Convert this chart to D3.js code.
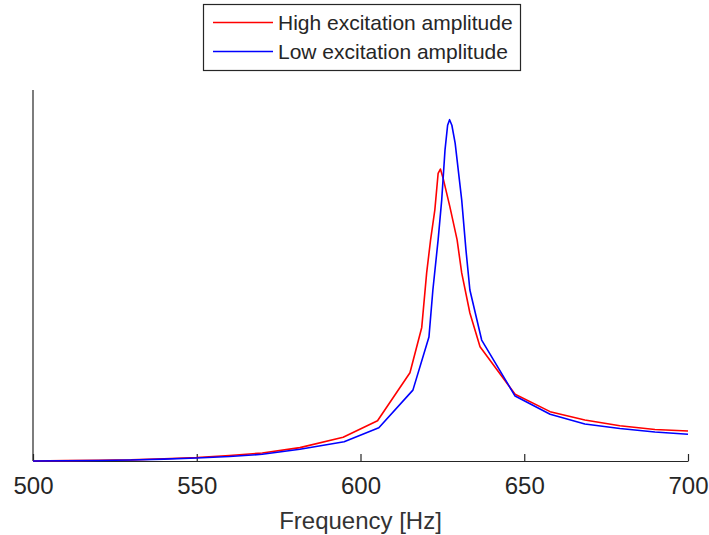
<!DOCTYPE html>
<html lang="en">
  <head>
    <meta charset="UTF-8" />
    <script src="https://cdn.jsdelivr.net/npm/d3@7"></script>
    <title>Frequency response</title>
    <style>
      body {
        margin: 0;
        background: white;
      }
      text {
        font-family: "Liberation Sans", Arial, sans-serif;
        fill: #262626;
      }
    </style>
  </head>
  <body>
    <script>
      /*------------------- data -------------------*/
      // frequency [Hz] and relative amplitude, high excitation
      const highFreq = [500, 510, 520, 530, 540, 550, 560, 570, 581.5, 594.7, 605.2, 615.1,
        618.7, 620.2, 621.4, 622.7, 623.7, 624.4, 625.2, 627.3, 629.5, 630.9, 633.4,
        636.5, 647.2, 657.9, 668.5, 679.2, 689.9, 700];
      const highAmp = [0.0, 0.001, 0.002, 0.003, 0.006, 0.0094, 0.0148, 0.0216, 0.036, 0.064,
        0.1086, 0.238, 0.36, 0.507, 0.596, 0.677, 0.775, 0.787, 0.763, 0.685, 0.596, 0.507,
        0.399, 0.308, 0.18, 0.133, 0.1105, 0.095, 0.085, 0.081];

      // low excitation
      const lowFreq = [500, 510, 520, 530, 540, 550, 560, 570, 581.5, 595, 605.6, 616,
        620.9, 622.1, 623.7, 624.8, 625.8, 626.6, 627.2, 627.9, 628.9, 630.9, 632.2, 633.4,
        637, 647.2, 657.9, 668.5, 679.2, 689.9, 700];
      const lowAmp = [0.0, 0.0008, 0.0015, 0.0025, 0.005, 0.008, 0.012, 0.018, 0.0315, 0.052,
        0.0898, 0.191, 0.334, 0.461, 0.596, 0.704, 0.838, 0.905, 0.92, 0.905, 0.857, 0.704,
        0.569, 0.461, 0.326, 0.175, 0.126, 0.0997, 0.0876, 0.078, 0.072];

      const xTicks = [500, 550, 600, 650, 700];
      const seriesNames = ["High excitation amplitude", "Low excitation amplitude"];
      const seriesColors = ["#ff0000", "#0000ff"];

      /*------------------- layout -------------------*/
      const width = 709, height = 535;
      const plot = { left: 33, right: 688, top: 90, bottom: 461 };

      const svg = d3.select("body").append("svg")
        .attr("width", width)
        .attr("height", height);

      const x = d3.scaleLinear().domain([500, 700]).range([plot.left, plot.right]);
      const y = d3.scaleLinear().domain([0, 1]).range([plot.bottom, plot.top]);

      // x axis with ticks pointing inward
      const xAxis = svg.append("g")
        .attr("transform", `translate(0,${plot.bottom})`)
        .call(d3.axisBottom(x).tickValues(xTicks).tickSizeInner(-7).tickSizeOuter(0).tickPadding(16));
      xAxis.select(".domain").attr("stroke", "#262626").attr("stroke-width", 1.2);
      xAxis.selectAll(".tick line").attr("stroke", "#262626").attr("stroke-width", 1.2);
      xAxis.selectAll(".tick text")
        .attr("font-size", 24)
        .attr("fill", "#333")
        .style("font-family", "'Liberation Sans', Arial, sans-serif");

      // y axis: just the line
      svg.append("line")
        .attr("x1", plot.left).attr("x2", plot.left)
        .attr("y1", plot.top).attr("y2", plot.bottom)
        .attr("stroke", "#262626").attr("stroke-width", 1.2);

      svg.append("text")
        .attr("x", (plot.left + plot.right) / 2)
        .attr("y", 529)
        .attr("text-anchor", "middle")
        .attr("font-size", 24)
        .style("fill", "#333")
        .text("Frequency [Hz]");

      /*------------------- lines -------------------*/
      const line = d3.line()
        .x((d) => x(d[0]))
        .y((d) => y(d[1]));

      const series = [
        d3.zip(highFreq, highAmp),
        d3.zip(lowFreq, lowAmp),
      ];

      series.forEach((pts, i) => {
        svg.append("path")
          .datum(pts)
          .attr("fill", "none")
          .attr("stroke", seriesColors[i])
          .attr("stroke-width", 1.6)
          .attr("stroke-linejoin", "round")
          .attr("d", line);
      });

      /*------------------- legend -------------------*/
      const legend = svg.append("g");
      legend.append("rect")
        .attr("x", 203.5).attr("y", 4.5)
        .attr("width", 317).attr("height", 66)
        .attr("fill", "white")
        .attr("stroke", "#262626")
        .attr("stroke-width", 1.2);

      seriesNames.forEach((name, i) => {
        const ly = 22.5 + i * 29;
        legend.append("line")
          .attr("x1", 213).attr("x2", 273)
          .attr("y1", ly).attr("y2", ly)
          .attr("stroke", seriesColors[i])
          .attr("stroke-width", 1.6);
        legend.append("text")
          .attr("x", 278)
          .attr("y", ly + 7.5)
          .attr("font-size", 21)
          .text(name);
      });
    </script>
  </body>
</html>
